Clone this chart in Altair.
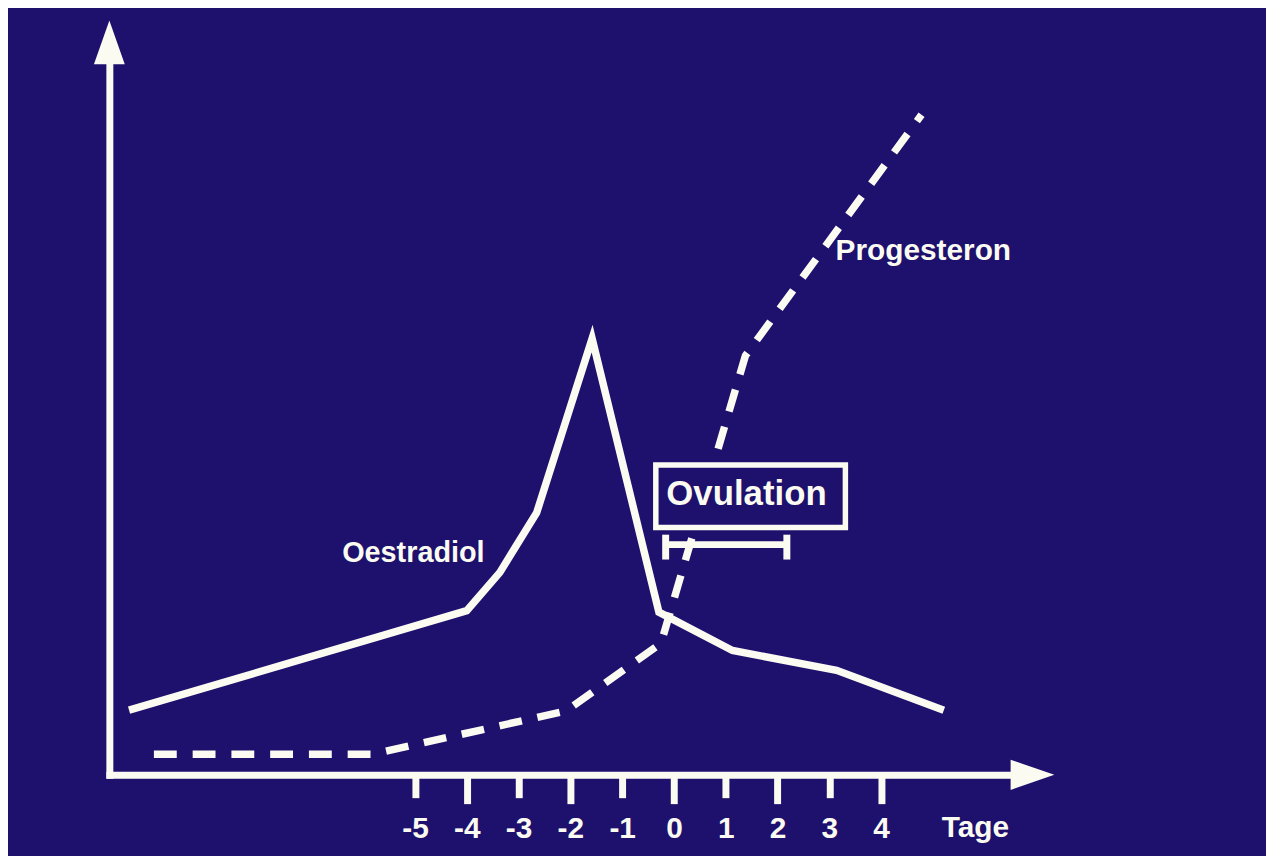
import altair as alt
import pandas as pd

BG = "#1e106d"
WHITE = "#fbfbf2"
FONT = "Liberation Sans"

# ---- data (x in days relative to ovulation, y in arbitrary hormone level units) ----
tick_days = [-5, -4, -3, -2, -1, 0, 1, 2, 3, 4]

oe_day = [-10.52, -4.0, -3.36, -2.65, -1.58, -0.29, 1.13, 3.14, 5.21]
oe_val = [9.1, 23.1, 28.5, 36.9, 61.4, 22.9, 17.5, 14.7, 9.1]

pr_day = [-10.04, -5.82, -2.08, -0.25, 1.38, 4.78]
pr_val = [2.9, 2.9, 9.0, 18.5, 59.0, 92.9]

series_labels = ["Oestradiol", "Progesteron"]
series_label_day = [-5.03, 3.12]
series_label_val = [29.9, 72.4]

ovu_label = ["Ovulation"]
ovu_label_day = [1.40]
ovu_label_val = [38.0]
ovu_box_day = [-0.35, 3.31]
ovu_box_val = [34.8, 43.6]
ovu_range_day = [-0.16, 2.18]
ovu_range_val = [32.4]
ovu_cap_val = [30.3, 33.8]

x_dom = [-10.9, 6.5]
y_dom = [0, 100]

# ---- tables ----
oe_df = pd.DataFrame({"day": oe_day, "val": oe_val})
pr_df = pd.DataFrame({"day": pr_day, "val": pr_val})
lab_df = pd.DataFrame({"day": series_label_day, "val": series_label_val,
                       "text": series_labels})
box_df = pd.DataFrame({"d0": [ovu_box_day[0]], "d1": [ovu_box_day[1]],
                       "v0": [ovu_box_val[0]], "v1": [ovu_box_val[1]]})
ovu_df = pd.DataFrame({"day": ovu_label_day, "val": ovu_label_val, "text": ovu_label})
bar_df = pd.DataFrame({"d0": [ovu_range_day[0]], "d1": [ovu_range_day[1]],
                       "val": ovu_range_val})
cap_df = pd.DataFrame({"day": ovu_range_day, "v0": [ovu_cap_val[0]] * 2,
                       "v1": [ovu_cap_val[1]] * 2})

xs = alt.Scale(domain=x_dom, nice=False, zero=False)
ys = alt.Scale(domain=y_dom, nice=False, zero=False)

EVEN = "abs(datum.value) % 2 == 0"

x_axis = alt.Axis(
    values=tick_days, grid=False,
    domain=True, domainColor=WHITE, domainWidth=7, domainCap="square",
    ticks=True, tickColor=WHITE, tickWidth=7,
    tickSize={"condition": {"test": EVEN, "value": 29}, "value": 23},
    labelExpr="'' + datum.value", labelColor=WHITE, labelFont=FONT,
    labelFontWeight="bold", labelFontSize=30,
    labelPadding={"condition": {"test": EVEN, "value": 34}, "value": 40},
    labelBaseline="alphabetic", labelFlush=False, labelOverlap=False,
    title="Tage", titleColor=WHITE, titleFont=FONT, titleFontWeight="bold",
    titleFontSize=30, titleX=871, titleY=62, titleAlign="center",
    titleBaseline="alphabetic", titleAngle=0,
)
y_axis = alt.Axis(
    grid=False, domain=True, domainColor=WHITE, domainWidth=7, domainCap="square",
    ticks=False, labels=False, title=None,
)


def X(field):
    return alt.X(field, type="quantitative", scale=xs, axis=x_axis)


def Y(field):
    return alt.Y(field, type="quantitative", scale=ys, axis=y_axis)


prog = alt.Chart(pr_df).mark_line(
    color=WHITE, strokeWidth=7.5, strokeDash=[23, 16], strokeCap="butt"
).encode(x=X("day"), y=Y("val"))

oest = alt.Chart(oe_df).mark_line(
    color=WHITE, strokeWidth=7.5, strokeJoin="miter"
).encode(x=X("day"), y=Y("val"))

box = alt.Chart(box_df).mark_rect(
    fill=BG, stroke=WHITE, strokeWidth=5.5
).encode(x=X("d0"), x2="d1", y=Y("v0"), y2="v1")

ovu_text = alt.Chart(ovu_df).mark_text(
    color=WHITE, font=FONT, fontWeight="bold", fontSize=35,
    align="center", baseline="alphabetic"
).encode(x=X("day"), y=Y("val"), text="text:N")

bar = alt.Chart(bar_df).mark_rule(color=WHITE, strokeWidth=7).encode(
    x=X("d0"), x2="d1", y=Y("val"))

caps = alt.Chart(cap_df).mark_rule(color=WHITE, strokeWidth=7).encode(
    x=X("day"), y=Y("v0"), y2="v1")

oe_label = alt.Chart(lab_df.iloc[[0]]).mark_text(
    color=WHITE, font=FONT, fontWeight="bold", fontSize=29,
    baseline="alphabetic", align="center"
).encode(x=X("day"), y=Y("val"), text="text:N")

pr_label = alt.Chart(lab_df.iloc[[1]]).mark_text(
    color=WHITE, font=FONT, fontWeight="bold", fontSize=30,
    baseline="alphabetic", align="left"
).encode(x=X("day"), y=Y("val"), text="text:N")

y_arrow = alt.Chart(pd.DataFrame({"day": [x_dom[0]], "val": [y_dom[1]]})).mark_point(
    shape="M0,-2L0.705,0L-0.705,0Z", size=1936, filled=True, color=WHITE,
    opacity=1, strokeWidth=0
).encode(x=X("day"), y=Y("val"))

x_arrow = alt.Chart(pd.DataFrame({"day": [x_dom[1]], "val": [y_dom[0]]})).mark_point(
    shape="M2,0L0,-0.69L0,0.69Z", size=1936, filled=True, color=WHITE,
    opacity=1, strokeWidth=0
).encode(x=X("day"), y=Y("val"))

chart = alt.layer(
    prog, oest, box, ovu_text, bar, caps, oe_label, pr_label, y_arrow, x_arrow
).properties(
    width=907, height=715,
    autosize=alt.AutoSizeParams(type="none"),
    padding={"left": 102, "top": 54, "right": 257, "bottom": 79},
    background=BG,
).configure_view(stroke=None)

chart.save("out.html", embed_options={"renderer": "svg", "actions": False})
